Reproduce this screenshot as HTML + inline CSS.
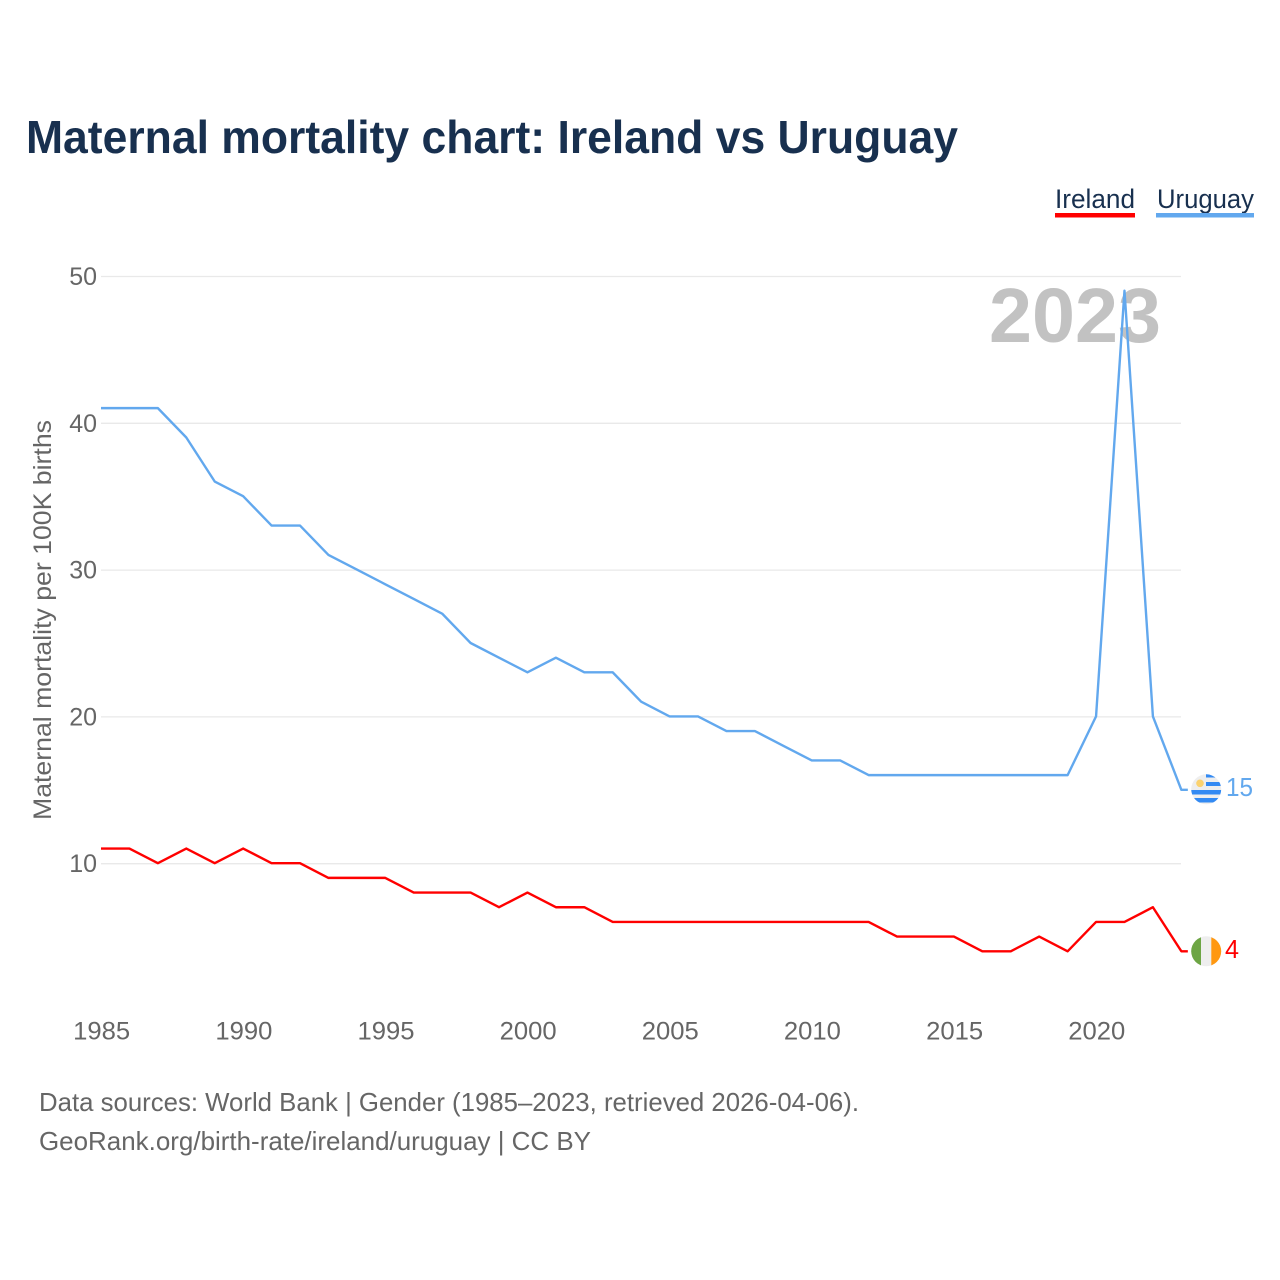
<!DOCTYPE html>
<html lang="en">
<head>
<meta charset="utf-8">
<title>Maternal mortality chart: Ireland vs Uruguay</title>
<style>
html,body{margin:0;padding:0;background:#fff;}
svg{display:block;}
text{font-family:"Liberation Sans",sans-serif;}
</style>
</head>
<body>
<svg id="chart" xmlns="http://www.w3.org/2000/svg" width="1280" height="1280" viewBox="0 0 1280 1280">
  <rect width="1280" height="1280" fill="#ffffff"/>
  <text x="26" y="153" font-size="46" font-weight="700" fill="#18304f" textLength="932" lengthAdjust="spacingAndGlyphs">Maternal mortality chart: Ireland vs Uruguay</text>

  <g>
    <text x="1055" y="208" font-size="27" fill="#18304f" textLength="80" lengthAdjust="spacingAndGlyphs">Ireland</text>
    <rect x="1055" y="213" width="80" height="4.5" fill="#ff0000"/>
  </g>
  <g>
    <text x="1157" y="208" font-size="27" fill="#18304f" textLength="97" lengthAdjust="spacingAndGlyphs">Uruguay</text>
    <rect x="1156" y="213" width="98" height="4.5" fill="#62a8ee"/>
  </g>

  <g id="grid"></g>
  <g id="yticks"></g>
  <g id="xticks"></g>

  <text transform="translate(51,820) rotate(-90)" font-size="25" fill="#666666" textLength="400" lengthAdjust="spacingAndGlyphs">Maternal mortality per 100K births</text>

  <text x="989" y="342" font-size="77" font-weight="700" fill="#c2c2c2" textLength="172" lengthAdjust="spacingAndGlyphs">2023</text>

  <g id="series"></g>

  <g>
    <clipPath id="uy-clip"><circle cx="1206.2" cy="789.3" r="15"/></clipPath>
    <g clip-path="url(#uy-clip)">
      <rect x="1190" y="773" width="32" height="32" fill="#eeeeee"/>
      <rect x="1206" y="774" width="16" height="3.5" fill="#338af3"/>
      <rect x="1206" y="782" width="16" height="4" fill="#338af3"/>
      <rect x="1190" y="790" width="32" height="4.5" fill="#338af3"/>
      <rect x="1190" y="798" width="32" height="4.5" fill="#338af3"/>
      <circle cx="1200" cy="783.3" r="3.8" fill="#fbd26e"/>
    </g>
  </g>
  <text x="1226" y="796" font-size="26" fill="#62a8ee" textLength="27" lengthAdjust="spacingAndGlyphs">15</text>

  <g>
    <clipPath id="ie-clip"><circle cx="1206.2" cy="951.3" r="15"/></clipPath>
    <g clip-path="url(#ie-clip)">
      <rect x="1190" y="935" width="32" height="32" fill="#eeeeee"/>
      <rect x="1190" y="935" width="11" height="32" fill="#6da544"/>
      <rect x="1211.3" y="935" width="11" height="32" fill="#ff9811"/>
    </g>
  </g>
  <text x="1225" y="958" font-size="26" fill="#ff0000" textLength="14" lengthAdjust="spacingAndGlyphs">4</text>

  <text x="39" y="1111" font-size="26" fill="#666666" textLength="820" lengthAdjust="spacingAndGlyphs">Data sources: World Bank | Gender (1985–2023, retrieved 2026-04-06).</text>
  <text x="39" y="1150" font-size="26" fill="#666666" textLength="552" lengthAdjust="spacingAndGlyphs">GeoRank.org/birth-rate/ireland/uruguay | CC BY</text>
</svg>
<script>
var years = [1985,1986,1987,1988,1989,1990,1991,1992,1993,1994,1995,1996,1997,1998,1999,2000,2001,2002,2003,2004,2005,2006,2007,2008,2009,2010,2011,2012,2013,2014,2015,2016,2017,2018,2019,2020,2021,2022,2023];
var uruguayValues = [41,41,41,39,36,35,33,33,31,30,29,28,27,25,24,23,24,23,23,21,20,20,19,19,18,17,17,16,16,16,16,16,16,16,16,20,49,20,15];
var irelandValues = [11,11,10,11,10,11,10,10,9,9,9,8,8,8,7,8,7,7,6,6,6,6,6,6,6,6,6,6,5,5,5,4,4,5,4,6,6,7,4];
var yTickValues = [10,20,30,40,50];
var xTickLabels = [1985,1990,1995,2000,2005,2010,2015,2020];

var NS = 'http://www.w3.org/2000/svg';
function xScale(year){ return 101 + (year - 1985) * 28.43; }
function yScale(v){ return 276 + (50 - v) * 14.68; }
function make(tag, attrs, parent){
  var el = document.createElementNS(NS, tag);
  for (var k in attrs) el.setAttribute(k, attrs[k]);
  parent.appendChild(el);
  return el;
}

var gridG = document.getElementById('grid');
var yG = document.getElementById('yticks');
yTickValues.forEach(function(v){
  var line = make('line', {x1:101, x2:1181, y1:yScale(v)+0.5, y2:yScale(v)+0.5, stroke:'#e9e9e9', 'stroke-width':1.3}, gridG);
  
  
  var t = make('text', {x:97, y:yScale(v)+9, 'text-anchor':'end', 'font-size':25, fill:'#666666'}, yG);
  
  
  t.textContent = v;
});

var xG = document.getElementById('xticks');
xTickLabels.forEach(function(y){
  var t = make('text', {x:xScale(y)+0.7, y:1039.5, 'text-anchor':'middle', 'font-size':25, fill:'#666666', textLength:57, lengthAdjust:'spacingAndGlyphs'}, xG);
  
  
  t.textContent = y;
});

var seriesG = document.getElementById('series');
function drawSeries(values, color, name){
  var pts = values.map(function(v, i){ return xScale(years[i]).toFixed(2) + ',' + yScale(v).toFixed(2); });
  var lastX = xScale(years[years.length - 1]);
  var lastY = yScale(values[values.length - 1]);
  pts.push((lastX + 6.5).toFixed(2) + ',' + lastY.toFixed(2));
  var line = make('polyline', {points:pts.join(' '), fill:'none', stroke:color, 'stroke-width':2.4, 'stroke-linejoin':'round'}, seriesG);
  
  
}
drawSeries(uruguayValues, '#62a8ee', 'uruguay-line');
drawSeries(irelandValues, '#ff0000', 'ireland-line');
</script>
</body>
</html>
